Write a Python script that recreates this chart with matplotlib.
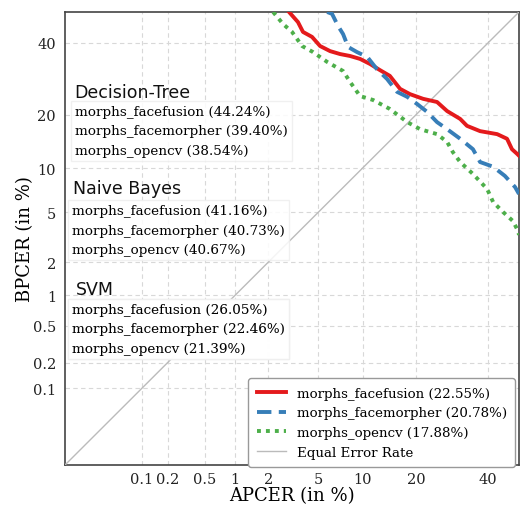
import matplotlib
matplotlib.use("Agg")
import matplotlib.pyplot as plt
from matplotlib.lines import Line2D
from statistics import NormalDist

# ---------------- data (percentages) ----------------
ff_apcer = [2.98, 3.51, 3.84, 4.50, 5.16, 6.09, 7.13, 8.32, 9.65, 11.1, 12.7, 14.5, 16.5, 18.6,
            21.6, 25.1, 27.8, 31.5, 33.5, 37.5, 42.9, 46.1, 47.7, 49.4, 50.0]
ff_bpcer = [50.0, 46.7, 43.5, 41.9, 39.0, 37.4, 36.5, 35.9, 35.0, 33.5, 31.7, 30.0, 26.4, 25.0,
            23.8, 23.0, 20.8, 19.0, 17.5, 16.4, 15.8, 14.9, 13.0, 12.2, 11.9]

fm_apcer = [5.80, 6.28, 6.92, 7.48, 8.08, 9.23, 10.7, 12.2, 14.0, 15.9, 18.0, 20.2, 22.6, 25.1,
            27.8, 31.5, 35.3, 37.5, 41.6, 45.4, 48.7, 50.0]
fm_bpcer = [50.0, 49.4, 45.4, 42.8, 38.7, 37.1, 35.6, 32.0, 29.1, 25.6, 24.3, 22.5, 20.6, 18.3,
            16.8, 14.9, 13.0, 10.9, 10.2, 8.92, 7.54, 6.76]

cv_apcer = [2.20, 2.66, 3.15, 3.78, 4.58, 5.80, 7.48, 8.32, 9.65, 11.6, 14.5, 18.0, 20.9, 25.1,
            27.8, 29.4, 31.5, 35.3, 39.7, 41.6, 44.8, 48.0, 49.7, 50.0]
cv_bpcer = [50.0, 46.1, 43.5, 39.0, 37.1, 34.1, 31.4, 28.3, 24.5, 23.5, 21.3, 18.3, 16.8, 15.8,
            14.3, 12.5, 10.9, 9.18, 7.31, 5.94, 5.03, 4.31, 3.61, 3.36]

series_labels = ["morphs_facefusion (22.55%)", "morphs_facemorpher (20.78%)",
                 "morphs_opencv (17.88%)", "Equal Error Rate"]

tick_values = [0.1, 0.2, 0.5, 1, 2, 5, 10, 20, 40]
tick_labels = ["0.1", "0.2", "0.5", "1", "2", "5", "10", "20", "40"]
axis_limits = [0.01, 50]  # percent

groups = ["Decision-Tree", "Naive Bayes", "SVM"]
group_entries = [
    ["morphs_facefusion (44.24%)", "morphs_facemorpher (39.40%)", "morphs_opencv (38.54%)"],
    ["morphs_facefusion (41.16%)", "morphs_facemorpher (40.73%)", "morphs_opencv (40.67%)"],
    ["morphs_facefusion (26.05%)", "morphs_facemorpher (22.46%)", "morphs_opencv (21.39%)"],
]

# ---------------- helpers ----------------
nd = NormalDist()
def probit(vals):
    return [nd.inv_cdf(v / 100.0) for v in vals]

# ---------------- figure ----------------
W, H = 521, 506
fig = plt.figure(figsize=(W / 100, H / 100), dpi=100)
ax = fig.add_axes([65 / W, (H - 466) / H, 454 / W, 453 / H])

serif = "DejaVu Serif"
sans = "DejaVu Sans"

lo, hi = probit(axis_limits)
ax.set_xlim(lo, hi)
ax.set_ylim(lo, hi)

LW = 2.8
ax.plot(probit(ff_apcer), probit(ff_bpcer), color="#e41a1c", lw=LW, ls="-", zorder=4)
ax.plot(probit(fm_apcer), probit(fm_bpcer), color="#377eb8", lw=LW, ls=(0, (3.7, 1.9)), zorder=4)
ax.plot(probit(cv_apcer), probit(cv_bpcer), color="#4daf4a", lw=LW, ls=(0, (1, 1.3)), zorder=4)
ax.plot([lo, hi], [lo, hi], color="#bbbbbb", lw=1.0, zorder=3)

ticks = probit(tick_values)
ax.set_xticks(ticks)
ax.set_xticklabels(tick_labels, fontfamily=serif, fontsize=10.5)
ax.set_yticks(ticks)
ax.set_yticklabels(tick_labels, fontfamily=serif, fontsize=10.5)
ax.tick_params(axis="x", length=0, pad=5, colors="#222222")
ax.tick_params(axis="y", length=0, pad=6.5, colors="#222222")
ax.grid(True, ls=(0, (4, 3)), color="#d8d8d8", lw=0.8)
ax.set_axisbelow(True)
for s in ax.spines.values():
    s.set_color("#444444")
    s.set_linewidth(1.2)

ax.set_xlabel("APCER (in %)", fontfamily=serif, fontsize=13, labelpad=0)
ax.set_ylabel("BPCER (in %)", fontfamily=serif, fontsize=13, labelpad=-1)

# main legend
handles = [
    Line2D([], [], color="#e41a1c", lw=LW),
    Line2D([], [], color="#377eb8", lw=LW, ls=(0, (3.7, 1.9))),
    Line2D([], [], color="#4daf4a", lw=LW, ls=(0, (1, 1.3))),
    Line2D([], [], color="#bbbbbb", lw=1.0),
]
main_leg = ax.legend(handles, series_labels, loc="lower right", bbox_to_anchor=(0.991, -0.004),
                     borderaxespad=0, prop={"family": serif, "size": 9.6}, frameon=True,
                     framealpha=1.0, edgecolor="#999999", fancybox=True,
                     handlelength=2.2, labelspacing=0.5, borderpad=0.62)
ax.add_artist(main_leg)

# group legends (text-only)
leg_anchor_y = [0.804, 0.585, 0.367]
leg_anchor_x = [0.013, 0.0066, 0.0066]
title_y = [0.823, 0.611, 0.389]
title_x = [0.020, 0.018, 0.024]
for g, entries, lx, ly, tx, ty in zip(groups, group_entries, leg_anchor_x, leg_anchor_y, title_x, title_y):
    hs = [Line2D([], [], lw=0, alpha=0) for _ in entries]
    lg = ax.legend(hs, entries, loc="upper left", bbox_to_anchor=(lx, ly), borderaxespad=0,
                   prop={"family": serif, "size": 9.7}, frameon=True, framealpha=0.85,
                   edgecolor="#eeeeee", fancybox=False, handlelength=0, handletextpad=0,
                   labelspacing=0.49, borderpad=0.3)
    ax.add_artist(lg)
    ax.text(tx, ty, g, transform=ax.transAxes, fontfamily=sans, fontsize=12.5,
            va="center", ha="left", color="#111111", zorder=6)

fig.savefig("out.png", dpi=100)
